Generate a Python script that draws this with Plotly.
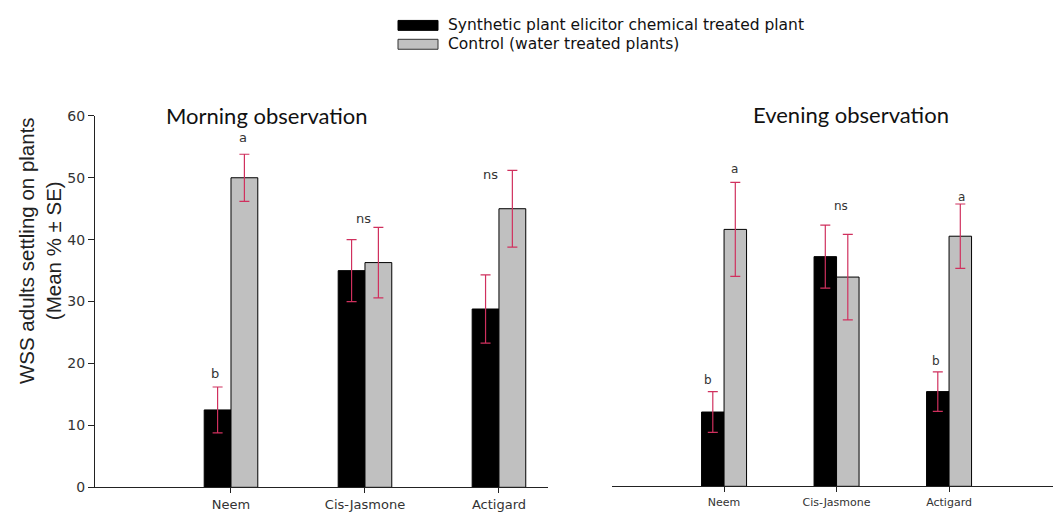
import plotly.graph_objects as go

categories = ["Neem", "Cis-Jasmone", "Actigard"]
cat_pos = [1, 2, 3]

morning_treated = [12.5, 35.0, 28.8]
morning_treated_se = [3.7, 5.0, 5.5]
morning_control = [50.0, 36.3, 45.0]
morning_control_se = [3.8, 5.7, 6.2]

evening_treated = [12.0, 37.1, 15.3]
evening_treated_se = [3.3, 5.1, 3.2]
evening_control = [41.5, 33.8, 40.4]
evening_control_se = [7.6, 6.9, 5.2]

# significance letters: (x position, y value, text)
morning_letters_x = [0.88, 1.09, 1.99, 2.94]
morning_letters_y = [18.4, 56.5, 43.5, 50.5]
morning_letters = ["b", "a", "ns", "ns"]

evening_letters_x = [0.86, 1.09, 2.04, 2.88, 3.11]
evening_letters_y = [17.1, 51.2, 45.2, 20.3, 46.8]
evening_letters = ["b", "a", "ns", "b", "a"]

legend_names = ["Synthetic plant elicitor chemical treated plant",
                "Control (water treated plants)"]
yticks = [0, 10, 20, 30, 40, 50, 60]

BLACK = "#000000"
GRAY = "#c0c0c0"
ERR = "#d0305e"
W, H = 1053, 519

def py(px):
    # convert a target pixel row to a paper fraction (with a small empirical correction)
    lay = (px - 5.5) / 0.975
    return 1 - lay / H

def px_(x):
    return x / W

SANS = "DejaVu Sans, Liberation Sans, Arial"

fig = go.Figure()

def add_bars(xa, ya, treated, tse, control, cse):
    fig.add_trace(go.Bar(
        x=cat_pos, y=treated, width=0.2, offset=-0.2, xaxis=xa, yaxis=ya,
        marker=dict(color=BLACK, line=dict(color="#000", width=1)),
        error_y=dict(type="data", array=tse, color=ERR, thickness=1.2, width=5),
        showlegend=False, name=legend_names[0]))
    fig.add_trace(go.Bar(
        x=cat_pos, y=control, width=0.2, offset=0.0, xaxis=xa, yaxis=ya,
        marker=dict(color=GRAY, line=dict(color="#000", width=1)),
        error_y=dict(type="data", array=cse, color=ERR, thickness=1.2, width=5),
        showlegend=False, name=legend_names[1]))

add_bars("x", "y", morning_treated, morning_treated_se, morning_control, morning_control_se)
add_bars("x2", "y2", evening_treated, evening_treated_se, evening_control, evening_control_se)

annotations = []
for x, y, t in zip(morning_letters_x, morning_letters_y, morning_letters):
    annotations.append(dict(x=x, y=y, xref="x", yref="y", text=t, showarrow=False,
                            xanchor="center", yanchor="middle",
                            font=dict(family=SANS, size=13, color="#333")))
for x, y, t in zip(evening_letters_x, evening_letters_y, evening_letters):
    annotations.append(dict(x=x, y=y, xref="x2", yref="y2", text=t, showarrow=False,
                            xanchor="center", yanchor="middle",
                            font=dict(family=SANS, size=12, color="#333")))

# panel titles
annotations.append(dict(x=px_(267), y=py(114), xref="paper", yref="paper",
                        text="Morning observation", showarrow=False,
                        xanchor="center", yanchor="middle",
                        font=dict(family="Lato, Open Sans", size=22, color="#111")))
annotations.append(dict(x=px_(851), y=py(113), xref="paper", yref="paper",
                        text="Evening observation", showarrow=False,
                        xanchor="center", yanchor="middle",
                        font=dict(family="Lato, Open Sans", size=22, color="#111")))
# y-axis title
annotations.append(dict(x=px_(40), y=py(250), xref="paper", yref="paper",
                        text="WSS adults settling on plants<br>(Mean % ± SE)",
                        textangle=-90, showarrow=False, xanchor="center", yanchor="middle",
                        font=dict(family="Liberation Sans, Arial", size=20.5, color="#222")))

# custom legend
shapes = [
    dict(type="rect", xref="paper", yref="paper", x0=px_(398), x1=px_(438),
         y0=py(28), y1=py(18), fillcolor=BLACK, line=dict(color="#000", width=1)),
    dict(type="rect", xref="paper", yref="paper", x0=px_(398), x1=px_(438),
         y0=py(47), y1=py(37), fillcolor=GRAY, line=dict(color="#333", width=1)),
]
for i, name in enumerate(legend_names):
    annotations.append(dict(x=px_(446), y=py(23 + 19 * i), xref="paper", yref="paper",
                            text=name, showarrow=False, xanchor="left", yanchor="middle",
                            font=dict(family=SANS, size=15.5, color="#111")))

fig.update_layout(
    width=W, height=H, margin=dict(l=0, r=0, t=0, b=0, pad=0),
    paper_bgcolor="white", plot_bgcolor="white",
    barmode="overlay",
    annotations=annotations, shapes=shapes,
    xaxis=dict(domain=[px_(95), px_(548)], range=[-0.015, 3.366],
               tickvals=cat_pos, ticktext=categories, showline=True, linecolor="#222",
               linewidth=1, ticks="outside", ticklen=5, tickcolor="#222",
               showgrid=False, zeroline=False,
               tickfont=dict(family=SANS, size=13, color="#333")),
    yaxis=dict(domain=[py(487.7), py(114)], range=[0, 60],
               tickvals=yticks, showline=True, linecolor="#222", linewidth=1,
               ticks="outside", ticklen=6, tickcolor="#222", showgrid=False, zeroline=False,
               tickfont=dict(family=SANS, size=14, color="#333")),
    xaxis2=dict(domain=[px_(612), 1.0], range=[0.004, 3.924], anchor="y2",
                tickvals=cat_pos, ticktext=categories, showline=True, linecolor="#222",
                linewidth=1, ticks="outside", ticklen=5, tickcolor="#222",
                showgrid=False, zeroline=False,
                tickfont=dict(family=SANS, size=11, color="#333")),
    yaxis2=dict(domain=[py(486.7), py(113)], range=[0, 60], anchor="x2",
                visible=False, showgrid=False, zeroline=False),
)

fig.write_html("out.html")
